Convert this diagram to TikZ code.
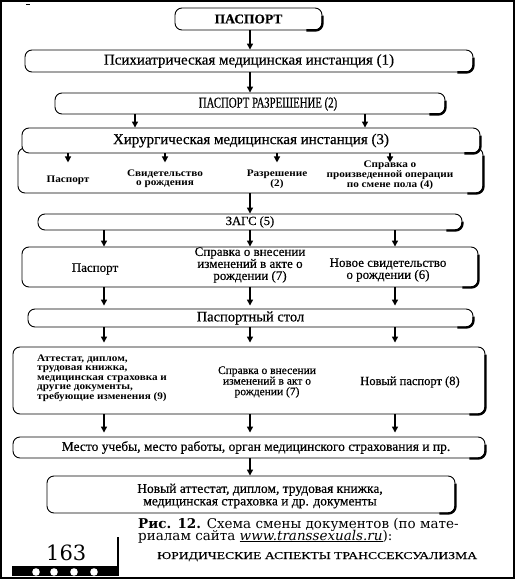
\documentclass[tikz,border=0pt]{standalone}
\usepackage{fontspec}
\setmainfont{Liberation Serif}[FakeBold=0.4]
\newfontfamily\condserif{Liberation Serif}[FakeStretch=0.72,FakeBold=0.4]
\newfontfamily\wideserif{Liberation Serif}[FakeStretch=1.12]
\newfontfamily\runserif{Liberation Serif}[FakeStretch=1.3,FakeBold=0.3]
\newfontfamily\capserif{DejaVu Serif}
\usetikzlibrary{arrows.meta}
\newcommand\thickedge[1]{\draw[line width=2.4pt, rounded corners=7pt] ([yshift=-8pt]#1.north east) -- (#1.south east) -- ([xshift=-16pt]#1.south east);}
\tikzset{
  box/.style={draw, line width=0.9pt, rounded corners=7pt, inner sep=0pt, fill=white},
  txt/.style={inner sep=0pt, align=center},
  arr/.style={line width=1.3pt, -{Triangle[width=6pt,length=6pt]}},
  fs/.style 2 args={font=\fontsize{#1}{#2}\selectfont},
}
\begin{document}
\begin{tikzpicture}[x=1pt,y=-1pt]
\useasboundingbox (0,0) rectangle (516,580);
\draw[line width=2pt] (1,1) rectangle (514,578);
\draw[line width=1pt] (26,5) -- (30,5);

% column coordinates
\coordinate (xm) at (250,0);
\coordinate (xl) at (104,0);
\coordinate (xr) at (395,0);
\coordinate (x2a) at (135,0);
\coordinate (x2b) at (365,0);

% boxes
\node[box, minimum width=147pt, minimum height=22pt, font=\bfseries\fontsize{13.5}{14}\selectfont] (b1) at (248.5,19) {ПАСПОРТ};
\node[box, minimum width=448pt, minimum height=22pt, fs={15}{16}] (b2) at (249,61) {Психиатрическая медицинская инстанция (1)};
\node[box, minimum width=390pt, minimum height=21pt] (b3) at (250,103.5) {};
\node[txt, font=\condserif\fontsize{15}{16}\selectfont] (t3) at (268,104) {ПАСПОРТ РАЗРЕШЕНИЕ (2)};
\node[box, minimum width=465pt, minimum height=45pt] (b4s) at (250.5,170.5) {};
\node[box, minimum width=458pt, minimum height=25pt, fs={15}{16}] (b4) at (251,140.5) {Хирургическая медицинская инстанция (3)};
\node[box, minimum width=424pt, minimum height=16pt, fs={12.5}{13}] (b5) at (250,222) {ЗАГС (5)};
\node[box, minimum width=456pt, minimum height=40pt] (b6) at (250,267) {};
\node[box, minimum width=445pt, minimum height=18pt, fs={14.5}{15}] (b7) at (250.5,318) {Паспортный стол};
\node[box, minimum width=472pt, minimum height=67pt] (b8) at (249,380.5) {};
\node[box, minimum width=472pt, minimum height=21pt] (b9) at (249,447.5) {};
\node[txt, fs={13.5}{14}] (t9) at (256,447.5) {Место учебы, место работы, орган медицинского страхования и пр.};
\node[box, minimum width=408pt, minimum height=37pt] (b10) at (251,494.5) {};
\node[txt, fs={13.5}{12.5}] (t10) at (260,496) {Новый аттестат, диплом, трудовая книжка,\\медицинская страховка и др. документы};

\foreach \n in {b1,b2,b3,b4s,b4,b5,b6,b7,b8,b9,b10} {\thickedge{\n}}

% texts in sub-box of (3)
\tikzset{sub/.style={txt, font=\wideserif\bfseries\fontsize{10}{8.8}\selectfont}}
\node[sub] (s1) at (68,180) {Паспорт};
\node[sub] (s2) at (165,179) {Свидетельство\\о рождения};
\node[sub] (s3) at (277,179) {Разрешение\\(2)};
\node[sub] (s4) at (390,175) {Справка о\\произведенной операции\\по смене пола (4)};

% texts in box after ZAGS
\node[txt, fs={13}{12}] (z1) at (95,269) {Паспорт};
\node[txt, fs={13}{12}] (z2) at (250,265) {Справка о внесении\\изменений в акте о\\рождении (7)};
\node[txt, fs={13}{12}] (z3) at (388,270) {Новое свидетельство\\о рождении (6)};

% texts in box after passport office
\node[txt, anchor=west, align=left, font=\wideserif\bfseries\fontsize{10}{9.6}\selectfont] (p1) at (37,378) {Аттестат, диплом,\\трудовая книжка,\\медицинская страховка и\\другие документы,\\требующие изменения (9)};
\node[txt, fs={11.5}{10.6}] (p2) at (267,382) {Справка о внесении\\изменений в акт о\\рождении (7)};
\node[txt, fs={12.5}{13}] (p3) at (410,382) {Новый паспорт (8)};

% arrows
\draw[arr] (b1.south -| xm) -- (b2.north -| xm);
\draw[arr] (b2.south -| xm) -- (b3.north -| xm);
\draw[arr] (b3.south -| x2a) -- (b4.north -| x2a);
\draw[arr] (b3.south -| x2b) -- (b4.north -| x2b);
\draw[arr] (b4.south -| s1) -- ++(0,9);
\draw[arr] (b4.south -| s2) -- ++(0,9);
\draw[arr] (b4.south -| s3) -- ++(0,9);
\draw[arr] (b4.south -| s4) -- ++(0,9);
\draw[arr] (b4s.south -| xm) -- (b5.north -| xm);
\foreach \c in {xl,xm,xr} {
  \draw[arr] (b5.south -| \c) -- (b6.north -| \c);
  \draw[arr] (b6.south -| \c) -- ([yshift=3pt]b7.north -| \c);
  \draw[arr] (b7.south -| \c) -- ([yshift=4pt]b8.north -| \c);
  \draw[arr] (b8.south -| \c) -- ([yshift=4pt]b9.north -| \c);
}
\draw[arr] (b9.south -| xm) -- (b10.north -| xm);

% caption and page footer
\node[inner sep=0pt, anchor=base west, font=\capserif\fontsize{13.5}{13}\selectfont] (capA) at (138,528) {\textbf{Рис. 12.} Схема смены документов (по мате-};
\node[inner sep=0pt, anchor=base west, font=\capserif\fontsize{13.5}{13}\selectfont] (capB) at (138,540) {риалам сайта \underline{\textit{www.transsexuals.ru}}):};
\node[inner sep=0pt, anchor=base west, font=\runserif\fontsize{10.5}{11}\selectfont] (run) at (157,559) {ЮРИДИЧЕСКИЕ АСПЕКТЫ ТРАНССЕКСУАЛИЗМА};
\node[inner sep=0pt, anchor=base west, font=\capserif\fontsize{21}{22}\selectfont] (pg) at (46,560) {163};
\draw[line width=1.5pt] (118,537) -- (118,576);
\fill (12,566) rectangle (118,576);
\foreach \dx in {36,54,74,94} {\fill[white] (\dx,572) circle (3.8);}
\end{tikzpicture}
\end{document}
